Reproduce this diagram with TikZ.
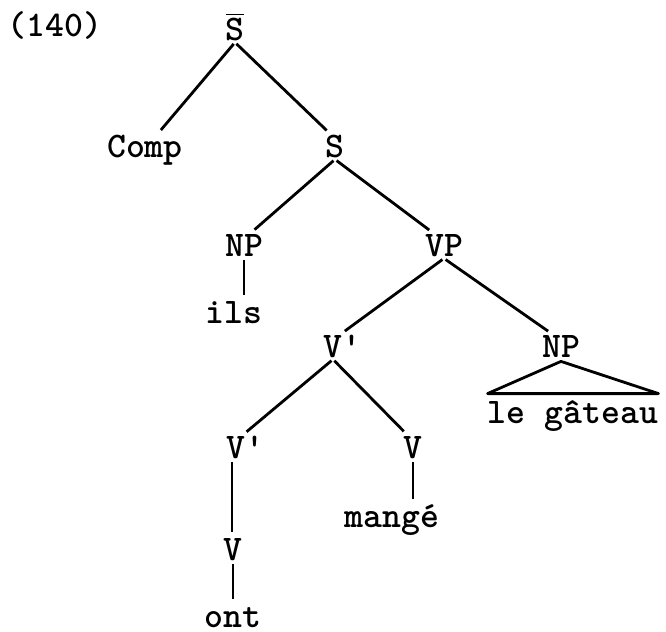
\documentclass[tikz,border=0pt]{standalone}
\usepackage{tikz}
\usetikzlibrary{positioning, calc}

\begin{document}
\begin{tikzpicture}[x=0.5pt, y=-0.5pt,
    every node/.style={font=\fontsize{18}{21}\selectfont\ttfamily\bfseries},
    cat/.style={inner sep=1pt, text height=10pt, text depth=0pt},
    branch/.style={line width=1.4pt, shorten <=1pt, shorten >=3pt}]
    \useasboundingbox (0,0) rectangle (666,632);

    % Example number
    \node[cat] (num) at (55,26) {(140)};

    % Categories
    \node[cat] (sbar)  at (235,30)  {$\overline{\hbox{S}}$};
    \node[cat] (comp)  at (145,147) {Comp};
    \node[cat] (s)     at (335,147) {S};
    \node[cat] (np1)   at (244,246) {NP};
    \node[cat] (vp)    at (444,246) {VP};
    \node[cat] (vbar1) at (333,347) {V\rlap{'}};
    \node[cat] (np2)   at (561,347) {NP};
    \node[cat] (vbar2) at (236,448) {V\rlap{'}};
    \node[cat] (v2)    at (413,448) {V};
    \node[cat] (v1)    at (233,550) {V};

    % Words
    \node[cat] (ils)    at (234,313) {ils};
    \node[cat, inner xsep=0pt] (gateau) at (573,413) {le gâteau};
    \node[cat] (mange)  at (392,517) {mangé};
    \node[cat] (ont)    at (233,617) {ont};

    % Branches
    \draw[branch] (sbar.south) -- ([xshift=6pt]comp.north);
    \draw[branch] (sbar.south) -- ([xshift=-2pt]s.north);
    \draw[branch] (s.south) -- ([xshift=3pt]np1.north);
    \draw[branch] (s.south) -- ([xshift=-5pt]vp.north);
    \draw[branch] (vp.south) -- ([xshift=3.5pt]vbar1.north);
    \draw[branch] (vp.south) -- ([xshift=-4pt]np2.north);
    \draw[branch] (vbar1.south) -- ([xshift=3pt]vbar2.north);
    \draw[branch] (vbar1.south) -- ([xshift=-2.5pt]v2.north);

    % Unary branches
    \draw[branch] (np1.south) -- (np1.south |- ils.north);
    \draw[branch] ([xshift=-2pt]vbar2.south) -- ([xshift=-2pt]vbar2.south |- v1.north);
    \draw[branch] (v1.south) -- (v1.south |- ont.north);
    \draw[branch] (v2.south) -- (v2.south |- mange.north);

    % Triangle over the object
    \draw[line width=1.4pt, line join=round]
        ([yshift=-1pt]np2.south) -- ([yshift=3.5pt]gateau.north west)
        -- ([yshift=3.5pt]gateau.north east) -- cycle;
\end{tikzpicture}
\end{document}
